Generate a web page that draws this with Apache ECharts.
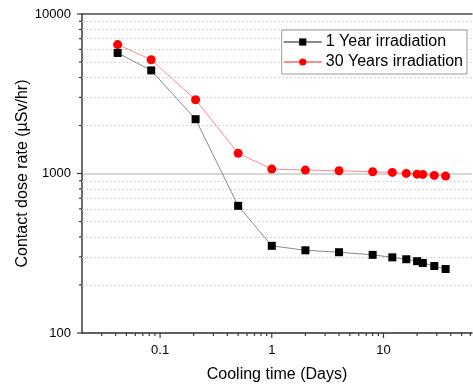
<!DOCTYPE html>
<html>
<head>
<meta charset="utf-8">
<script src="https://cdn.jsdelivr.net/npm/echarts@6/dist/echarts.min.js"></script>
<style>
html,body{margin:0;padding:0;background:#fff;}
#c{width:473px;height:385px;}
</style>
</head>
<body>
<div id="c"></div>
<script>
// ---- data ----
var coolingDays = [0.0417, 0.0833, 0.208, 0.5, 1, 2, 4, 8, 12, 16, 20, 22.5, 28.5, 36];
var oneYear = [5700, 4430, 2190, 627, 352, 330, 321, 309, 298, 290, 282, 275, 263, 252];
var thirtyYears = [6430, 5170, 2900, 1340, 1066, 1050, 1040, 1025, 1016, 1001, 991, 987, 973, 963];
var seriesNames = ['1 Year irradiation', '30 Years irradiation'];
var yMajorTicks = [100, 1000, 10000];
var yMinorTicks = [200, 300, 400, 500, 600, 700, 800, 900, 2000, 3000, 4000, 5000, 6000, 7000, 8000, 9000];
var xMajorTicks = [0.1, 1, 10];
var xMinorTicks = [0.03, 0.04, 0.05, 0.06, 0.07, 0.08, 0.09, 0.2, 0.3, 0.4, 0.5, 0.6, 0.7, 0.8, 0.9,
                   2, 3, 4, 5, 6, 7, 8, 9, 20, 30, 40, 50, 60];
var xMin = 0.02, xMax = 62, yMin = 100, yMax = 10000;

function zip(a, b) { return a.map(function (v, i) { return [v, b[i]]; }); }

var FONT = 'Liberation Sans, Arial, sans-serif';
var AX = '#3a3a3a';

var tickData = [];
yMajorTicks.forEach(function (v) { tickData.push([xMin, v, 0, 5]); });
yMinorTicks.forEach(function (v) { tickData.push([xMin, v, 0, 3]); });
xMajorTicks.forEach(function (v) { tickData.push([v, yMin, 1, 5]); });
xMinorTicks.forEach(function (v) { tickData.push([v, yMin, 1, 3]); });

var chart = echarts.init(document.getElementById('c'), null, {renderer: 'canvas'});
chart.setOption({
  animation: false,
  backgroundColor: '#fff',
  grid: {left: 82, top: 14, right: 1, bottom: 52, containLabel: false, outerBoundsMode: 'none'},
  legend: {
    data: seriesNames,
    orient: 'vertical',
    right: 6, top: 30,
    itemWidth: 38, itemHeight: 9, itemGap: 4,
    padding: [4, 4, 4, 1],
    borderColor: '#9a9a9a', borderWidth: 1,
    backgroundColor: '#fff',
    textStyle: {fontFamily: FONT, fontSize: 16, color: '#000', padding: [0, 0, 0, -1]}
  },
  xAxis: [{
    type: 'log', logBase: 10, min: xMin, max: xMax,
    name: 'Cooling time (Days)', nameLocation: 'middle', nameGap: 34,
    nameMoveOverlap: false,
    nameTextStyle: {fontFamily: FONT, fontSize: 16, color: '#000'},
    axisLine: {show: true, lineStyle: {color: AX, width: 1.5}},
    axisTick: {show: false},
    axisLabel: {fontFamily: FONT, fontSize: 13, color: '#000', margin: 11,
      showMinLabel: false, showMaxLabel: false,
      formatter: function (v) { return String(+Number(v).toPrecision(6)); }},
    splitLine: {show: false}
  }, {
    type: 'log', logBase: 10, min: xMin, max: xMax, position: 'top',
    axisLine: {show: true, lineStyle: {color: '#555', width: 1.5}},
    axisTick: {show: false}, axisLabel: {show: false}, splitLine: {show: false}
  }],
  yAxis: {
    type: 'log', logBase: 10, min: yMin, max: yMax,
    name: 'Contact dose rate (\u00b5Sv/hr)', nameLocation: 'middle', nameGap: 51,
    nameMoveOverlap: false,
    nameTextStyle: {fontFamily: FONT, fontSize: 16, color: '#000'},
    axisLine: {show: true, lineStyle: {color: AX, width: 1.5}},
    axisTick: {show: false},
    axisLabel: {fontFamily: FONT, fontSize: 13, color: '#000', margin: 11,
      formatter: function (v) { return String(Math.round(v)); }},
    splitLine: {show: true, lineStyle: {color: '#d6d6d6', width: 2}}
  },
  series: [{
    name: 'grid', type: 'line', data: [], z: 1, silent: true,
    markLine: {
      z: 1,
      silent: true, symbol: ['none', 'none'], label: {show: false},
      lineStyle: {color: '#d4d4d4', type: [2, 2], width: 1},
      animation: false,
      data: yMinorTicks.map(function (v) { return {yAxis: v}; })
    }
  }, {
    name: seriesNames[0], type: 'line',
    data: zip(coolingDays, oneYear),
    symbol: 'rect', symbolSize: 8,
    itemStyle: {color: '#000'},
    lineStyle: {color: '#8a8a8a', width: 1},
    z: 3
  }, {
    name: seriesNames[1], type: 'line',
    data: zip(coolingDays, thirtyYears),
    symbol: 'circle', symbolSize: 9,
    itemStyle: {color: '#ff0000'},
    lineStyle: {color: '#ff8a8a', width: 1},
    z: 4
  }, {
    type: 'custom', silent: true, clip: false, z: 5,
    data: tickData,
    renderItem: function (params, api) {
      var p = api.coord([api.value(0), api.value(1)]);
      var len = api.value(3);
      var shape = api.value(2) === 1
        ? {x1: p[0], y1: p[1], x2: p[0], y2: p[1] + len}
        : {x1: p[0] - len, y1: p[1], x2: p[0], y2: p[1]};
      return {type: 'line', shape: shape, style: {stroke: AX, lineWidth: 1.2}};
    }
  }]
});
</script>
</body>
</html>
